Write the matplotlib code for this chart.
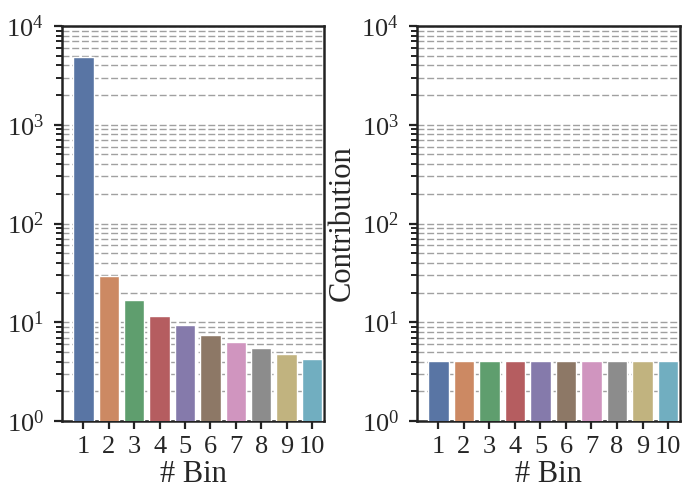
import numpy as np
import matplotlib
matplotlib.use('Agg')
import matplotlib.pyplot as plt
import seaborn as sns

sns.set_style('ticks')
plt.rcParams['font.family'] = ['Liberation Serif', 'DejaVu Serif']
plt.rcParams['mathtext.fontset'] = 'stix'

bins = ['1', '2', '3', '4', '5', '6', '7', '8', '9', '10']
left_vals = [4820, 29.4, 16.7, 11.6, 9.3, 7.4, 6.3, 5.45, 4.8, 4.22]
right_vals = [4.08, 4.08, 4.08, 4.08, 4.08, 4.08, 4.08, 4.08, 4.08, 4.08]

colors = [sns.desaturate(c, 0.75) for c in sns.color_palette('deep', 10)]

fig = plt.figure(figsize=(6.82, 4.97), dpi=100)
W, H = 682, 497
ax1 = fig.add_axes([62 / W, (H - 421) / H, 262 / W, 395 / H])
ax2 = fig.add_axes([417 / W, (H - 421) / H, 263 / W, 395 / H])

for ax, vals in [(ax1, left_vals), (ax2, right_vals)]:
    x = np.arange(len(bins))
    ax.set_yscale('log')
    ax.bar(x, vals, width=0.8, color=colors, edgecolor='white', linewidth=1, zorder=3)
    ax.set_ylim(1, 1e4)
    ax.set_xlim(-0.84, 9.47)
    ax.set_xticks(x)
    ax.set_xticklabels(bins)
    ax.set_axisbelow(True)
    ax.grid(True, which='both', axis='y', linestyle=(0, (5, 2)), color='#a0a0a0', linewidth=1)
    ax.tick_params(axis='both', which='major', length=6, width=1.6, color='#222222', direction='out')
    ax.tick_params(axis='x', labelsize=19, pad=5)
    ax.tick_params(axis='y', labelsize=19, pad=7)
    ax.tick_params(axis='y', which='minor', length=4, width=1.4, color='#222222')
    for s in ax.spines.values():
        s.set_linewidth(1.8)
        s.set_color('#222222')
    ax.set_xlabel('# Bin', fontsize=22, labelpad=1)

ax2.set_ylabel('Contribution', fontsize=22, labelpad=3)

fig.savefig('out.png', dpi=100)
